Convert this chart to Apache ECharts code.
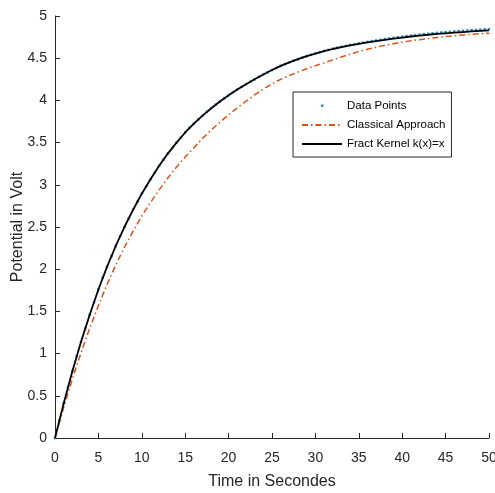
<!DOCTYPE html>
<html>
<head>
<meta charset="utf-8">
<script src="https://cdn.jsdelivr.net/npm/echarts@6/dist/echarts.min.js"></script>
<style>
  html, body { margin: 0; padding: 0; background: #fff; }
  #chart { width: 495px; height: 493px; }
</style>
</head>
<body>
<div id="chart"></div>
<script>
// time samples of the measured points (every 0.5 s)
const timeFine = [0, 0.5, 1, 1.5, 2, 2.5, 3, 3.5, 4, 4.5, 5, 5.5, 6, 6.5, 7, 7.5, 8, 8.5, 9, 9.5,
  10, 10.5, 11, 11.5, 12, 12.5, 13, 13.5, 14, 14.5, 15, 15.5, 16, 16.5, 17, 17.5, 18, 18.5, 19, 19.5,
  20, 20.5, 21, 21.5, 22, 22.5, 23, 23.5, 24, 24.5, 25, 25.5, 26, 26.5, 27, 27.5, 28, 28.5, 29, 29.5,
  30, 30.5, 31, 31.5, 32, 32.5, 33, 33.5, 34, 34.5, 35, 35.5, 36, 36.5, 37, 37.5, 38, 38.5, 39, 39.5,
  40, 40.5, 41, 41.5, 42, 42.5, 43, 43.5, 44, 44.5, 45, 45.5, 46, 46.5, 47, 47.5, 48, 48.5, 49, 49.5, 50];
const dataPoints = [0.00, 0.21, 0.41, 0.60, 0.79, 0.97, 1.14, 1.30, 1.46, 1.61, 1.76, 1.90, 2.03, 2.155, 2.275, 2.39, 2.50, 2.605, 2.705, 2.80,
  2.895, 2.98, 3.065, 3.145, 3.225, 3.30, 3.37, 3.435, 3.50, 3.56, 3.62, 3.675, 3.725, 3.775, 3.82, 3.865, 3.907, 3.948, 3.987, 4.024,
  4.06, 4.095, 4.128, 4.16, 4.191, 4.221, 4.25, 4.279, 4.307, 4.334, 4.36, 4.385, 4.409, 4.43, 4.451, 4.47, 4.489, 4.507, 4.524, 4.54,
  4.556, 4.571, 4.586, 4.599, 4.612, 4.624, 4.635, 4.646, 4.657, 4.666, 4.676, 4.685, 4.694, 4.702, 4.71, 4.718, 4.726, 4.733, 4.741, 4.748,
  4.755, 4.761, 4.767, 4.773, 4.779, 4.785, 4.79, 4.795, 4.80, 4.805, 4.809, 4.813, 4.817, 4.821, 4.825, 4.829, 4.833, 4.836, 4.839, 4.842, 4.845];

// time samples of the two model curves (every 1 s)
const timeCoarse = [0, 1, 2, 3, 4, 5, 6, 7, 8, 9, 10, 11, 12, 13, 14, 15, 16, 17, 18, 19, 20, 21, 22, 23, 24, 25,
  26, 27, 28, 29, 30, 31, 32, 33, 34, 35, 36, 37, 38, 39, 40, 41, 42, 43, 44, 45, 46, 47, 48, 49, 50];
const classical = [0.00, 0.36, 0.70, 1.01, 1.30, 1.57, 1.82, 2.05, 2.26, 2.45, 2.63, 2.79, 2.94, 3.08, 3.21, 3.33, 3.44,
  3.55, 3.65, 3.74, 3.83, 3.91, 3.99, 4.065, 4.135, 4.195, 4.25, 4.295, 4.335, 4.375, 4.41, 4.445, 4.48, 4.515,
  4.548, 4.578, 4.605, 4.63, 4.652, 4.672, 4.69, 4.706, 4.72, 4.733, 4.745, 4.756, 4.766, 4.775, 4.783, 4.79, 4.797];
const fractKernel = [0.00, 0.41, 0.79, 1.14, 1.46, 1.76, 2.03, 2.275, 2.50, 2.705, 2.895, 3.065, 3.225, 3.37, 3.50, 3.62, 3.725,
  3.82, 3.907, 3.987, 4.06, 4.128, 4.191, 4.25, 4.307, 4.36, 4.409, 4.451, 4.489, 4.524, 4.555, 4.584, 4.609, 4.631,
  4.652, 4.67, 4.687, 4.703, 4.718, 4.732, 4.745, 4.757, 4.768, 4.778, 4.787, 4.795, 4.803, 4.81, 4.817, 4.824, 4.83];

const names = ["Data Points", "Classical Approach", "Fract Kernel k(x)=x"];

const zip = (xs, ys) => xs.map((x, i) => [x, ys[i]]);

const axisColor = "#262626";
const font = "Liberation Sans, Arial, sans-serif";

let myChart = echarts.init(document.getElementById("chart"), null, { renderer: "canvas" });
myChart.setOption({
  animation: false,
  backgroundColor: "#fff",
  grid: { left: 55, right: 6, top: 16, bottom: 55, containLabel: false, outerBoundsMode: "none" },
  legend: {
    orient: "vertical",
    left: 293,
    top: 92,
    padding: [7, 6, 7, 8],
    itemGap: 7,
    itemWidth: 40,
    itemHeight: 13,
    borderColor: "#262626",
    borderWidth: 1,
    backgroundColor: "#fff",
    textStyle: { color: "#000", fontSize: 11.5, fontFamily: font },
    data: [
      // small dot centred in the icon box
      { name: names[0], icon: "path://M0,0M19,5.5L21.5,5.5L21.5,8L19,8ZM40,13" },
      { name: names[1], itemStyle: { opacity: 0 } },
      { name: names[2], itemStyle: { opacity: 0 } },
    ],
  },
  xAxis: {
    type: "value",
    min: 0,
    max: 50,
    interval: 5,
    name: "Time in Secondes",
    nameLocation: "middle",
    nameGap: 36,
    nameMoveOverlap: false,
    nameTextStyle: { color: axisColor, fontSize: 16, fontFamily: font },
    axisLine: { lineStyle: { color: axisColor, width: 1 } },
    axisTick: { inside: true, length: 5, lineStyle: { color: axisColor } },
    axisLabel: { color: axisColor, fontSize: 14, fontFamily: font, margin: 13 },
    splitLine: { show: false },
  },
  yAxis: {
    type: "value",
    min: 0,
    max: 5,
    interval: 0.5,
    name: "Potential in Volt",
    nameLocation: "middle",
    nameGap: 29,
    nameMoveOverlap: false,
    nameTextStyle: { color: axisColor, fontSize: 16, fontFamily: font },
    axisLine: { show: true, lineStyle: { color: axisColor, width: 1 } },
    axisTick: { show: true, inside: true, length: 5, lineStyle: { color: axisColor } },
    axisLabel: { color: axisColor, fontSize: 14, fontFamily: font, margin: 8 },
    splitLine: { show: false },
  },
  series: [
    {
      name: names[0],
      type: "scatter",
      data: zip(timeFine, dataPoints),
      symbol: "rect",
      symbolSize: 2.5,
      itemStyle: { color: "#0072BD" },
      z: 2,
    },
    {
      name: names[1],
      type: "line",
      data: zip(timeCoarse, classical),
      symbol: "none",
      lineStyle: { color: "#D95319", width: 1.5, type: [6, 3, 1.5, 3] },
      itemStyle: { color: "#D95319" },
      z: 3,
    },
    {
      name: names[2],
      type: "line",
      data: zip(timeCoarse, fractKernel),
      symbol: "none",
      lineStyle: { color: "#000", width: 1.8 },
      itemStyle: { color: "#000" },
      z: 4,
    },
  ],
});
</script>
</body>
</html>
